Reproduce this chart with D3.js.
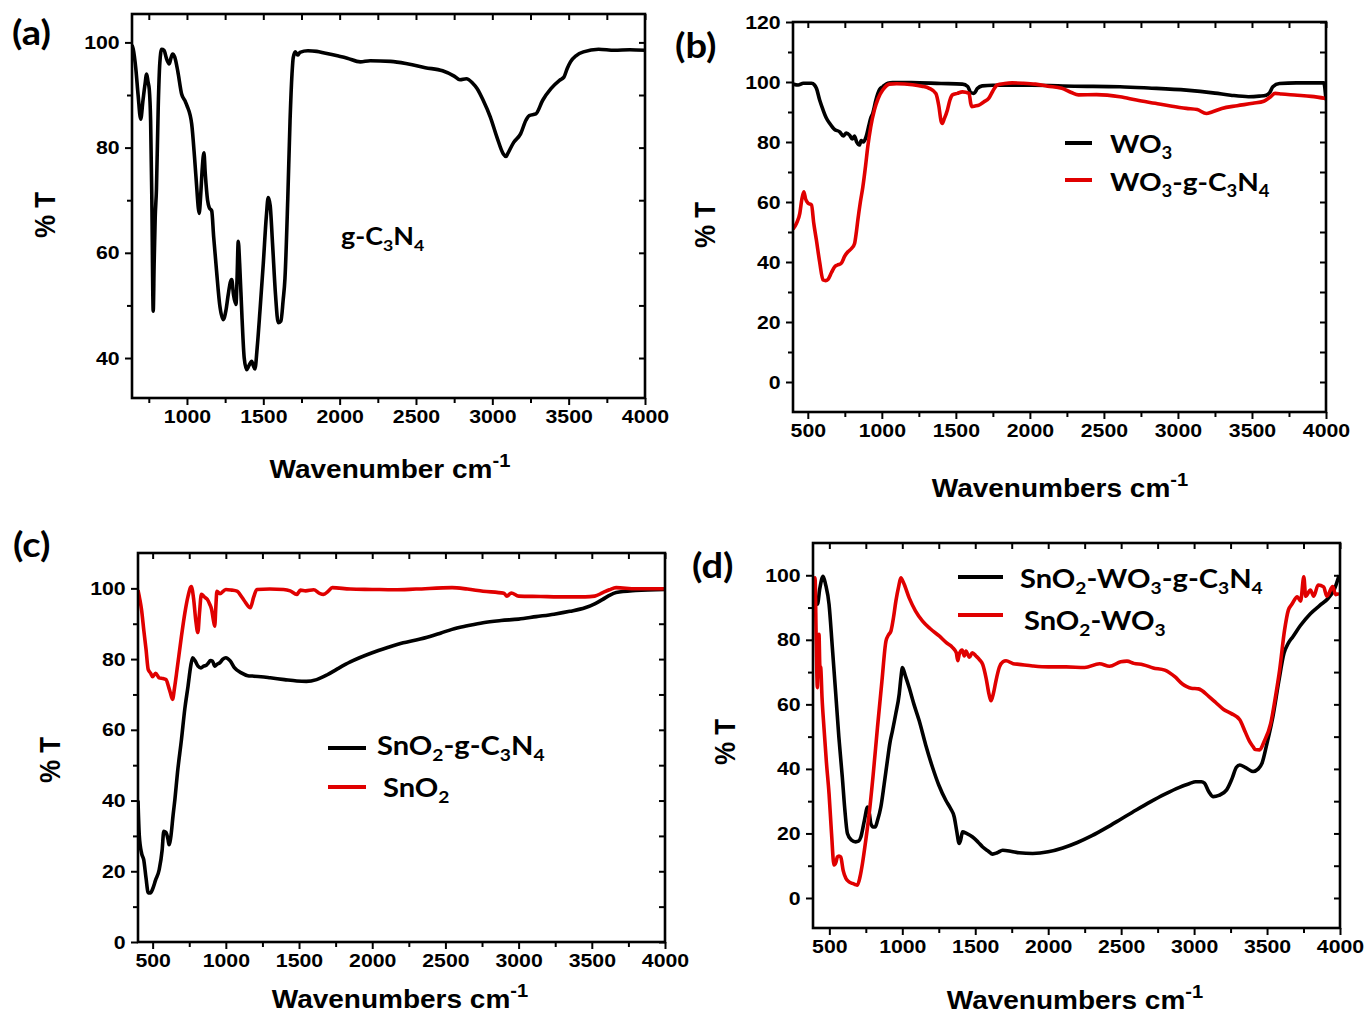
<!DOCTYPE html>
<html>
<head>
<meta charset="utf-8">
<script src="https://cdn.jsdelivr.net/npm/d3@7"></script>
<style>
  body { margin: 0; background: #fff; }
</style>
</head>
<body>
<svg id="fig" width="1370" height="1017"></svg>
<script>
// ---- data (wavenumber cm-1, %T) ----
const gc3n4 = [[640,99.5],[648,98.7],[665,95],[680,90],[697,85.4],[712,89],[725,92],[736,94],[745,92.5],[753,91.1],[762,85],[770,70],[779,48.9],[785,58],[792,66.7],[800,72],[812,88],[822,96],[834,98.7],[850,98.5],[865,97],[884,95.9],[895,97],[906,97.8],[920,97.2],[940,94.5],[965,90.2],[987,88.9],[1000,88],[1031,84.5],[1050,78],[1065,72],[1074,68.6],[1080,67.5],[1090,71],[1100,76],[1111,79],[1120,75],[1135,70],[1146,68.6],[1162,68],[1175,63],[1194,56.5],[1215,50],[1238,47.3],[1255,49],[1270,52],[1285,54.5],[1293,54.9],[1305,52],[1321,50.2],[1328,55],[1336,62.2],[1345,58],[1360,48],[1375,40],[1391,37.8],[1405,38.5],[1424,39.4],[1435,38.5],[1445,37.9],[1460,42],[1478,48.9],[1500,58],[1520,67],[1532,70.5],[1545,69],[1560,62],[1580,52],[1598,46.7],[1615,47],[1630,51],[1642,55.2],[1660,70],[1675,85],[1688,94],[1696,97.1],[1710,98.2],[1725,97.6],[1740,98.1],[1792,98.4],[1850,98.3],[1900,98],[1993,97.4],[2050,97],[2135,96.3],[2200,96.5],[2334,96.4],[2450,95.9],[2561,95.2],[2674,94.6],[2750,93.6],[2788,92.9],[2830,93.1],[2870,92.3],[2901,91.2],[2940,89],[2987,85.8],[3030,82],[3072,78.8],[3090,78.3],[3100,78.8],[3140,81],[3185,82.6],[3220,85.2],[3242,86.1],[3285,86.4],[3330,89],[3384,91.2],[3440,92.8],[3469,93.4],[3490,95],[3512,96.3],[3550,97.5],[3597,98.2],[3696,98.7],[3800,98.5],[3900,98.6],[4000,98.5]];

const wo3 = [[400,99.3],[435,99],[470,99.6],[525,99.6],[545,99],[558,97.9],[580,94],[603,90.7],[625,88],[648,86.2],[680,84.2],[715,83.4],[740,82],[760,83],[782,82.3],[800,81],[815,82],[830,80],[849,79],[860,80.5],[875,80],[894,81.8],[910,85],[925,88],[939,89.6],[960,94],[985,97.5],[1006,98.4],[1040,99.6],[1073,99.8],[1200,99.8],[1400,99.5],[1544,99.3],[1580,98.5],[1600,96.5],[1622,96.2],[1645,97.8],[1678,98.7],[1750,98.9],[1880,98.9],[2009,98.9],[2300,98.6],[2608,98.4],[2800,98],[3057,97.3],[3250,96.3],[3356,95.6],[3476,95.1],[3550,95.3],[3596,95.6],[3620,96.5],[3641,98.4],[3686,99.5],[3800,99.7],[3985,99.7],[4000,94]];

const wo3gc3n4 = [[400,51],[424,52.9],[446,56.2],[460,61],[473,63.4],[485,61],[502,59.6],[525,59],[540,53],[558,47.3],[580,40],[603,34],[620,33.8],[636,34.2],[660,36.5],[681,38.4],[700,39],[726,39.6],[750,42],[771,43.4],[795,44.5],[816,46.2],[828,50],[838,54],[855,60],[872,65.1],[890,72],[905,78.4],[925,85],[950,90.7],[975,94.5],[1006,97.3],[1051,99.3],[1100,99.4],[1208,99.1],[1270,98.6],[1320,97.9],[1365,96.2],[1385,92],[1400,87],[1409,86.2],[1420,87.5],[1443,90.7],[1460,94],[1477,95.7],[1510,96.2],[1544,96.7],[1589,96.2],[1600,93],[1607,91.8],[1630,92],[1656,92.3],[1690,93.4],[1723,94.6],[1750,97],[1779,99],[1830,99.5],[1880,99.7],[1950,99.6],[2037,99.3],[2120,98.6],[2216,97.9],[2280,96.5],[2328,95.7],[2450,95.8],[2608,95.1],[2720,94],[2847,92.9],[2950,92],[3057,91.2],[3130,90.8],[3192,89.5],[3230,90],[3296,91.2],[3400,92.1],[3506,92.9],[3580,93.6],[3626,95.1],[3656,96.2],[3700,96],[3806,95.6],[3900,95.2],[4000,94.5]];

const sno2gc3n4 = [[400,40],[409,30],[425,25],[439,23.3],[455,18],[470,13.9],[485,13.9],[500,15],[520,17.5],[545,20.5],[565,26],[576,31.3],[590,31],[605,29],[612,27.5],[625,30],[640,36],[652,40.3],[670,48],[697,57.3],[720,66],[742,72.4],[760,78],[773,80.4],[790,79.5],[810,78],[830,77.5],[848,78],[865,78.2],[879,78.8],[895,79.6],[909,79.4],[925,78],[939,78.5],[960,79],[980,80],[1000,80.4],[1030,79.5],[1060,77.5],[1106,76.1],[1150,75.3],[1182,75.2],[1240,75],[1303,74.7],[1400,74.2],[1485,73.8],[1550,73.7],[1620,74.2],[1690,75.5],[1757,77.1],[1850,79.2],[2000,81.8],[2100,83.2],[2212,84.6],[2300,85.4],[2394,86.4],[2470,87.4],[2545,88.4],[2650,89.4],[2757,90.3],[2880,90.9],[3000,91.3],[3120,92],[3242,92.7],[3350,93.5],[3454,94.5],[3520,95.6],[3575,96.9],[3620,98],[3666,98.8],[3800,99.4],[4000,99.7]];

const sno2 = [[400,99.5],[412,97],[424,94],[440,88],[455,82.7],[470,77],[485,76.1],[500,75],[520,76],[545,74.7],[570,74.5],[591,74.2],[610,72],[621,70.5],[636,68.6],[650,72],[667,77.1],[697,86.5],[720,93],[742,97.8],[764,100.5],[780,97],[794,91.2],[809,87.5],[820,93],[833,98.3],[855,97.5],[873,96.9],[890,95.5],[903,94],[915,91],[924,89.3],[932,95],[939,99.2],[960,98.5],[1000,99.7],[1040,99.5],[1076,99.2],[1110,97.5],[1136,95.9],[1167,94.5],[1190,97.5],[1212,99.7],[1300,99.8],[1394,99.7],[1440,99.3],[1485,98.3],[1510,99.5],[1545,99.3],[1600,99.6],[1640,98.6],[1667,98.3],[1700,99.2],[1727,100.2],[1850,99.8],[2000,99.7],[2150,99.6],[2300,99.8],[2545,100.2],[2650,99.8],[2757,99.2],[2900,98.6],[2920,97.8],[2950,98.7],[3000,97.8],[3150,97.7],[3273,97.6],[3454,97.6],[3520,97.8],[3575,98.8],[3620,99.6],[3666,100.2],[3800,99.9],[4000,99.9]];

const sno2wo3gc3n4 = [[390,92],[400,93],[418,91],[435,96],[457,99.7],[475,97],[498,91],[520,78],[544,63.2],[565,50],[589,37.4],[605,28],[624,20],[650,18],[681,17.4],[700,17.6],[716,18.9],[740,24],[762,28.2],[775,26],[784,23.1],[800,22],[814,22],[830,24],[853,28.2],[875,35],[898,42.6],[915,48],[933,51.9],[955,57],[979,63.2],[990,68],[1001,71.4],[1020,69],[1047,65.2],[1080,60],[1116,54.9],[1160,47.5],[1207,40.5],[1250,35],[1299,30.2],[1330,27.8],[1356,25.1],[1372,21],[1390,16.9],[1400,18],[1413,20.5],[1440,20],[1482,18.9],[1520,17.3],[1551,15.8],[1590,14.5],[1619,13.6],[1650,14],[1688,14.8],[1750,14.4],[1800,14],[1894,13.8],[2000,14.3],[2100,15.5],[2200,17.2],[2300,19.3],[2400,21.8],[2500,24.5],[2600,27.2],[2700,29.8],[2800,32.2],[2900,34.3],[2970,35.5],[3011,36],[3050,36],[3071,35.6],[3100,33],[3132,31.4],[3170,31.8],[3223,33.5],[3260,37],[3290,40.5],[3313,41.2],[3350,40.5],[3404,39.2],[3440,40],[3465,41.7],[3500,48],[3540,56.2],[3580,67],[3616,75.8],[3646,79],[3676,80.9],[3730,84.5],[3797,88.1],[3860,90.6],[3918,92.8],[3960,95.5],[3994,100]];

const sno2wo3 = [[392,99],[402,99.2],[410,80],[418,65.2],[424,78],[429,81.7],[435,72],[441,71.4],[450,62],[463,52.9],[480,42],[498,32.3],[515,20],[532,10.2],[545,11],[555,12.7],[566,13],[578,12.7],[595,8.5],[613,6.1],[635,5],[658,4.5],[675,4.2],[692,4],[710,6.5],[727,10.7],[750,18],[773,26.1],[800,38],[830,52.9],[860,67],[888,79.6],[905,81.5],[922,82.7],[940,87],[956,92],[975,96.5],[990,99.2],[1010,97.5],[1047,93],[1090,89],[1139,85.8],[1190,83.5],[1253,81.2],[1300,79.2],[1345,77.6],[1370,76],[1380,73.5],[1390,75.5],[1410,76.8],[1425,75],[1436,76.5],[1460,74.6],[1480,76],[1505,75],[1530,73.8],[1551,72.4],[1575,68],[1595,63],[1608,61.1],[1625,63.5],[1642,67.3],[1665,71.5],[1690,73.2],[1711,73.5],[1760,72.6],[1800,72.4],[1894,71.9],[2000,71.6],[2123,71.6],[2250,71.4],[2352,72.6],[2420,71.8],[2497,73.2],[2540,73.4],[2587,72.7],[2650,72.3],[2720,71.3],[2799,70.6],[2870,68.5],[2920,66.3],[2950,65.5],[2980,65],[3030,64.8],[3102,62.4],[3150,60.5],[3200,58.5],[3253,57.2],[3313,55.2],[3350,51.5],[3380,48.5],[3404,46.9],[3420,46],[3449,45.9],[3480,48.5],[3525,54.1],[3560,63],[3586,70.6],[3620,83],[3646,89.2],[3670,91],[3707,93.3],[3730,92],[3752,99.5],[3765,93.5],[3797,95.4],[3820,93.5],[3850,97],[3888,96.4],[3910,93.5],[3950,96.5],[3970,94],[3994,94.3]];

// tick labels
const xTicksA = [1000, 1500, 2000, 2500, 3000, 3500, 4000];
const xTicks = [500, 1000, 1500, 2000, 2500, 3000, 3500, 4000];
const yTicksA = [40, 60, 80, 100];
const yTicksB = [0, 20, 40, 60, 80, 100, 120];
const yTicksCD = [0, 20, 40, 60, 80, 100];

const legendB = ["WO3", "WO3-g-C3N4"];
const legendC = ["SnO2-g-C3N4", "SnO2"];
const legendD = ["SnO2-WO3-g-C3N4", "SnO2-WO3"];

const BLACK = "#000000", RED = "#e00000";
const NUM_FONT = "'Liberation Sans', Arial, sans-serif";
const LBL_FONT = "Lato, 'Open Sans', sans-serif";
const SX = 1.12; // the source figure is stretched sideways a little

const svg = d3.select("#fig");

// formula text: digits become subscripts
function chem(t, str, size) {
    let low = false;
    str.match(/\d+|\D+/g).forEach(p => {
        const num = /\d/.test(p);
        const ts = t.append("tspan").text(p);
        if (num) {
            ts.attr("font-size", size * 0.66);
            if (!low) { ts.attr("dy", size * 0.24); low = true; }
        } else if (low) {
            ts.attr("dy", -size * 0.24);
            low = false;
        }
    });
}

function label(x, y, size, font) {
    return svg.append("text")
        .attr("transform", `translate(${x},${y}) scale(${SX},1)`)
        .attr("font-family", font)
        .attr("font-weight", "bold")
        .attr("font-size", size)
        .attr("fill", "#000");
}

function xTitle(cx, y, word) {
    const t = label(cx, y, 25, NUM_FONT).attr("text-anchor", "middle");
    t.append("tspan").text(word + " cm");
    t.append("tspan").attr("dy", -11).attr("font-size", 18).text("-1");
}

function yTitle(cx, cy) {
    svg.append("text")
        .attr("transform", `translate(${cx},${cy}) rotate(-90) scale(1,${SX})`)
        .attr("text-anchor", "middle")
        .attr("dominant-baseline", "central")
        .attr("font-family", NUM_FONT)
        .attr("font-weight", "bold")
        .attr("font-size", 26)
        .text("% T");
}

function panel(cfg) {
    const [l, t, r, b] = cfg.box;
    const x = d3.scaleLinear().domain(cfg.xDom).range([l, r]);
    const y = d3.scaleLinear().domain(cfg.yDom).range([b, t]);
    const g = svg.append("g");

    const xMinor = d3.range(250, 4000, 500).filter(v => v > cfg.xDom[0] && v < cfg.xDom[1]);
    const yMinor = d3.range(-10, 121, 20).filter(v => v > cfg.yDom[0] + 1 && v < cfg.yDom[1] - 1);

    const styleAxis = sel => {
        sel.select(".domain").remove();
        sel.selectAll("line").attr("stroke", "#000").attr("stroke-width", 2);
        sel.selectAll("text")
            .attr("font-family", NUM_FONT)
            .attr("font-weight", "bold")
            .attr("font-size", 19)
            .attr("fill", "#000");
    };

    // bottom & left: outward ticks with labels
    g.append("g").attr("transform", `translate(0,${b})`)
        .call(d3.axisBottom(x).tickValues(cfg.xTicks).tickSize(7).tickPadding(5).tickFormat(d3.format("d")))
        .call(styleAxis)
        .selectAll("text").attr("transform", `scale(${SX},1)`);
    g.append("g").attr("transform", `translate(0,${b})`)
        .call(d3.axisBottom(x).tickValues(xMinor).tickSize(5).tickFormat(""))
        .call(styleAxis);
    g.append("g").attr("transform", `translate(${l},0)`)
        .call(d3.axisLeft(y).tickValues(cfg.yTicks).tickSize(7).tickPadding(4).tickFormat(d3.format("d")))
        .call(styleAxis)
        .selectAll("text").attr("transform", `scale(${SX},1)`);
    g.append("g").attr("transform", `translate(${l},0)`)
        .call(d3.axisLeft(y).tickValues(yMinor).tickSize(5).tickFormat(""))
        .call(styleAxis);

    // top & right: mirrored ticks pointing inward
    g.append("g").attr("transform", `translate(0,${t})`)
        .call(d3.axisTop(x).tickValues(cfg.xTicks.concat(xMinor)).tickSize(-6).tickFormat(""))
        .call(styleAxis);
    g.append("g").attr("transform", `translate(${r},0)`)
        .call(d3.axisRight(y).tickValues(cfg.yTicks.concat(yMinor)).tickSize(-6).tickFormat(""))
        .call(styleAxis);

    svg.append("clipPath").attr("id", "clip-" + cfg.id)
        .append("rect").attr("x", l).attr("y", t).attr("width", r - l).attr("height", b - t);

    const line = d3.line()
        .x(d => x(d[0]))
        .y(d => y(d[1]))
        .curve(d3.curveMonotoneX);

    cfg.series.forEach(s => {
        g.append("path")
            .datum(s.data)
            .attr("clip-path", `url(#clip-${cfg.id})`)
            .attr("fill", "none")
            .attr("stroke", s.color)
            .attr("stroke-width", 3.6)
            .attr("stroke-linejoin", "round")
            .attr("d", line);
    });

    // frame
    g.append("rect")
        .attr("x", l).attr("y", t)
        .attr("width", r - l).attr("height", b - t)
        .attr("fill", "none")
        .attr("stroke", "#000")
        .attr("stroke-width", 2.6);
}

function legend(x0, x1, tx, rows) {
    rows.forEach(row => {
        svg.append("line")
            .attr("x1", x0).attr("x2", x1)
            .attr("y1", row.ly).attr("y2", row.ly)
            .attr("stroke", row.color)
            .attr("stroke-width", 4);
        chem(label(tx + (row.dx || 0), row.ty, row.size, LBL_FONT), row.name, row.size);
    });
}

// (a)
panel({ id: "a", box: [132, 14, 645, 398], xDom: [640, 4000], yDom: [32.4, 105.4],
    xTicks: xTicksA, yTicks: yTicksA, series: [{ data: gc3n4, color: BLACK }] });
// (b)
panel({ id: "b", box: [793, 22, 1326, 412], xDom: [400, 4000], yDom: [-10, 120],
    xTicks: xTicks, yTicks: yTicksB,
    series: [{ data: wo3, color: BLACK }, { data: wo3gc3n4, color: RED }] });
// (c)
panel({ id: "c", box: [138, 553, 665, 942], xDom: [400, 4000], yDom: [0, 110],
    xTicks: xTicks, yTicks: yTicksCD,
    series: [{ data: sno2gc3n4, color: BLACK }, { data: sno2, color: RED }] });
// (d)
panel({ id: "d", box: [813, 543, 1340, 928], xDom: [388, 4000], yDom: [-9.3, 110],
    xTicks: xTicks, yTicks: yTicksCD,
    series: [{ data: sno2wo3gc3n4, color: BLACK }, { data: sno2wo3, color: RED }] });

// panel letters
label(12, 45, 34, LBL_FONT).text("(a)");
label(675, 58, 34, LBL_FONT).text("(b)");
label(13, 557, 34, LBL_FONT).text("(c)");
label(692, 578, 34, LBL_FONT).text("(d)");

// axis titles
xTitle(390, 478, "Wavenumber");
xTitle(1060, 497, "Wavenumbers");
xTitle(400, 1008, "Wavenumbers");
xTitle(1075, 1009, "Wavenumbers");
yTitle(45, 215);
yTitle(705, 225);
yTitle(50, 760);
yTitle(725, 742);

// annotations and legends
chem(label(341, 245, 24, LBL_FONT), "g-C3N4", 24);
legend(1065, 1092, 1110, [
    { name: legendB[0], color: BLACK, ly: 143, ty: 153, size: 25 },
    { name: legendB[1], color: RED, ly: 180, ty: 191, size: 25 }]);
legend(328, 366, 377, [
    { name: legendC[0], color: BLACK, ly: 748, ty: 755, size: 26 },
    { name: legendC[1], color: RED, ly: 787, ty: 797, size: 26, dx: 6 }]);
legend(958, 1003, 1020, [
    { name: legendD[0], color: BLACK, ly: 577, ty: 588, size: 26 },
    { name: legendD[1], color: RED, ly: 615, ty: 630, size: 26, dx: 4 }]);
</script>
</body>
</html>
